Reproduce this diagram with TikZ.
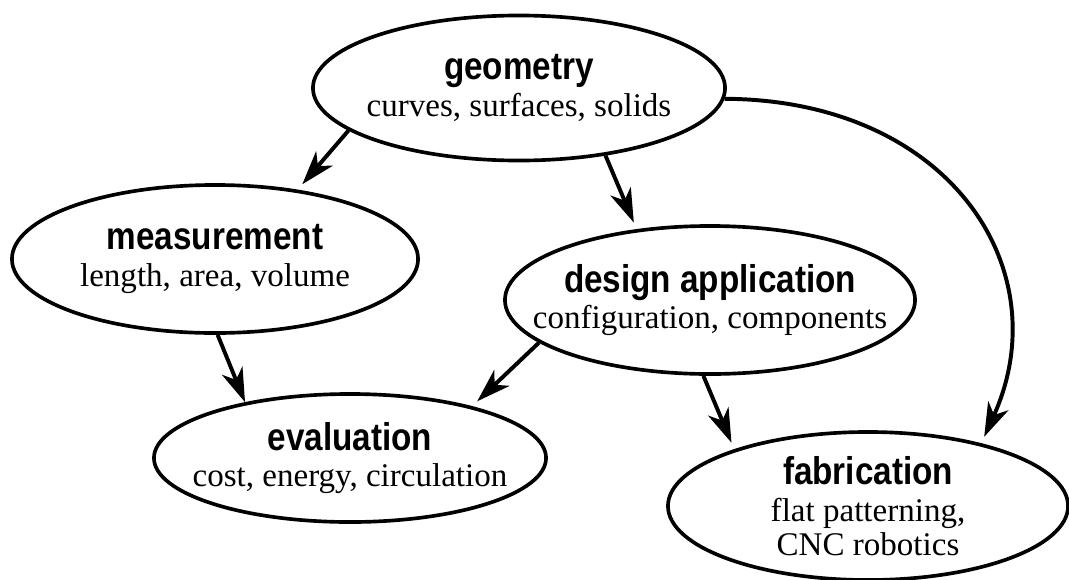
\documentclass[tikz,border=0pt]{standalone}
\usepackage{fontspec}
\setmainfont{Liberation Serif}
\newfontfamily\headfont[FakeStretch=0.86]{Liberation Sans}
\usetikzlibrary{shapes.geometric, arrows.meta}
\newcommand{\heading}[1]{{\headfont\bfseries\fontsize{27.5}{31}\selectfont #1}}

\begin{document}
\begin{tikzpicture}[x=0.025cm, y=-0.025cm, >={Stealth[length=0.85cm, width=0.55cm, inset=0.25cm]}]

        % Styles
        \tikzset{
            topic/.style={ellipse, draw, line width=2.6pt, inner xsep=-1cm, inner ysep=-0.6cm, align=center, font=\fontsize{23.5}{24}\selectfont},
            link/.style={->, line width=2.8pt},
            gap/.style={shorten >=5pt}
        }

        \useasboundingbox (0,0) rectangle (1069,579);

        % --- TOP ---
        \node[topic, minimum width=10.3cm, minimum height=3.625cm] (geo) at (519,88) {\heading{geometry}\\[2pt] curves, surfaces, solids};

        % --- MIDDLE ---
        \node[topic, minimum width=10.15cm, minimum height=3.7cm] (meas) at (215,259) {\heading{measurement}\\[2pt] length, area, volume};
        \node[topic, minimum width=10.25cm, minimum height=3.7cm] (design) at (710,300) {\heading{design application}\\[2pt] configuration, components};

        % --- BOTTOM ---
        \node[topic, minimum width=9.8cm, minimum height=3.2cm] (eval) at (350,458) {\heading{evaluation}\\[2pt] cost, energy, circulation};
        \node[topic, minimum width=10cm, minimum height=3.7cm] (fab) at (868,506) {\heading{fabrication}\\[2pt] flat patterning,\\ CNC robotics};

        % --- CONNEXIONS ---
        \draw[link, gap] (geo.194) -- (meas.40);
        \draw[link, gap] (geo.-38) -- (design.136);
        \draw[link] (meas.-88) -- (eval.152);
        \draw[link, gap] (design.194) -- (eval.23);
        \draw[link, gap] (design.-95) -- (fab.157);
        \draw[link, gap] (geo.-3) .. controls (950,100) and (1060,270) .. (fab.29);

    \end{tikzpicture}
\end{document}
